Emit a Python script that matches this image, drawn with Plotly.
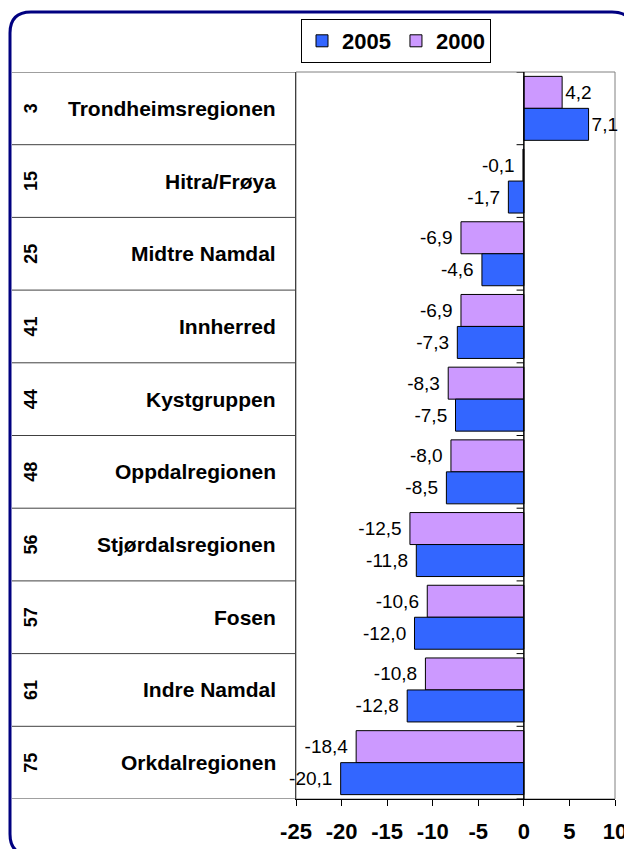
import plotly.graph_objects as go

# ---- data ----
ranks = ["3", "15", "25", "41", "44", "48", "56", "57", "61", "75"]
regions = ["Trondheimsregionen", "Hitra/Frøya", "Midtre Namdal", "Innherred",
           "Kystgruppen", "Oppdalregionen", "Stjørdalsregionen", "Fosen",
           "Indre Namdal", "Orkdalregionen"]
values_2005 = [7.1, -1.7, -4.6, -7.3, -7.5, -8.5, -11.8, -12.0, -12.8, -20.1]
values_2000 = [4.2, -0.1, -6.9, -6.9, -8.3, -8.0, -12.5, -10.6, -10.8, -18.4]
x_tickvals = [-25, -20, -15, -10, -5, 0, 5, 10]
x_ticktext = ["-25", "-20", "-15", "-10", "-5", "0", "5", "10"]

# ---- geometry (page pixels; the page body has an 8px margin) ----
OFF = 8
W_FIG, H_FIG = 632 - OFF, 849 - OFF
L, R, T, B = 296 - OFF, 615 - OFF, 72 - OFF, 799 - OFF
PW, PH = R - L, B - T

def px_x(x):
    return (x - OFF - L) / PW

def px_y(y):
    return (B - (y - OFF)) / PH

FONT = "Arial, 'Liberation Sans', sans-serif"
ypos = list(range(len(regions)))

def fmt(v):
    s = f"{v:.1f}".replace(".", ",")
    return s + " " if v < 0 else s

fig = go.Figure()
fig.add_trace(go.Bar(
    name="2000", y=ypos, x=values_2000, orientation="h",
    marker=dict(color="#CC99FF", line=dict(color="black", width=1)),
    text=[fmt(v) for v in values_2000], textposition="outside",
    textfont=dict(size=19, color="black", family=FONT),
    cliponaxis=False, constraintext="none",
))
fig.add_trace(go.Bar(
    name="2005", y=ypos, x=values_2005, orientation="h",
    marker=dict(color="#3366FF", line=dict(color="black", width=1)),
    text=[fmt(v) for v in values_2005], textposition="outside",
    textfont=dict(size=19, color="black", family=FONT),
    cliponaxis=False, constraintext="none",
))

shapes = []
shapes.append(dict(type="rect", xref="paper", yref="paper", x0=0, x1=1, y0=0, y1=1,
                   line=dict(color="#808080", width=1), layer="below"))
n = len(regions)
for i in range(n + 1):
    shapes.append(dict(type="line", xref="paper", yref="y",
                       x0=px_x(12), x1=0, y0=i - 0.5, y1=i - 0.5,
                       line=dict(color="#404040", width=1)))
for i in range(n + 1):
    shapes.append(dict(type="line", xref="x", yref="y",
                       x0=-0.8, x1=0, y0=i - 0.5, y1=i - 0.5,
                       line=dict(color="black", width=1)))
shapes.append(dict(type="line", xref="x", yref="paper", x0=0, x1=0, y0=0, y1=1,
                   line=dict(color="black", width=1.5)))

r = 21
bx0, by0, bx1, by1 = 10, 12, 633, 855
def P(x, y):
    return f"{px_x(x):.5f},{px_y(y):.5f}"
path = (f"M {P(bx0, by0 + r)} Q {P(bx0, by0)} {P(bx0 + r, by0)} "
        f"L {P(bx1 - r, by0)} Q {P(bx1, by0)} {P(bx1, by0 + r)} "
        f"L {P(bx1, by1 - r)} Q {P(bx1, by1)} {P(bx1 - r, by1)} "
        f"L {P(bx0 + r, by1)} Q {P(bx0, by1)} {P(bx0, by1 - r)} Z")
shapes.append(dict(type="path", xref="paper", yref="paper", path=path,
                   line=dict(color="#000080", width=3)))

annotations = []
for i, (rk, rg) in enumerate(zip(ranks, regions)):
    annotations.append(dict(x=px_x(278), xref="paper", y=i, yref="y",
                            text=f"<b>{rg}</b>", showarrow=False,
                            xanchor="right", yanchor="middle",
                            font=dict(size=21, color="black", family=FONT)))
    annotations.append(dict(x=px_x(31), xref="paper", y=i, yref="y",
                            text=f"<b>{rk}</b>", showarrow=False, textangle=-90,
                            xanchor="center", yanchor="middle",
                            font=dict(size=18, color="black", family=FONT)))

fig.update_layout(
    width=W_FIG, height=H_FIG, autosize=False,
    margin=dict(l=L, r=W_FIG - R, t=T, b=H_FIG - B, pad=0, autoexpand=False),
    paper_bgcolor="white", plot_bgcolor="white",
    barmode="group", bargap=0.12, bargroupgap=0,
    font=dict(family=FONT, color="black"),
    showlegend=True,
    legend=dict(orientation="h", traceorder="reversed",
                x=px_x(301), y=px_y(19), xanchor="left", yanchor="top",
                bordercolor="black", borderwidth=1, bgcolor="white",
                font=dict(size=22, family=FONT, color="black", weight="bold"),
                itemwidth=30, tracegroupgap=0),
    xaxis=dict(range=[-25, 10], tickvals=x_tickvals, ticktext=x_ticktext,
               showgrid=False, zeroline=False, showline=True, linecolor="black",
               linewidth=1, ticks="outside", ticklen=6, tickcolor="black",
               ticklabelstandoff=7, automargin=False, ticklabeloverflow="allow",
               tickfont=dict(size=22, family=FONT, color="black", weight="bold")),
    yaxis=dict(range=[n - 0.5, -0.5], showticklabels=False, showgrid=False,
               zeroline=False, showline=True, linecolor="#404040", linewidth=1,
               ticks="", automargin=False),
    shapes=shapes, annotations=annotations,
)

fig.write_html("out.html")
